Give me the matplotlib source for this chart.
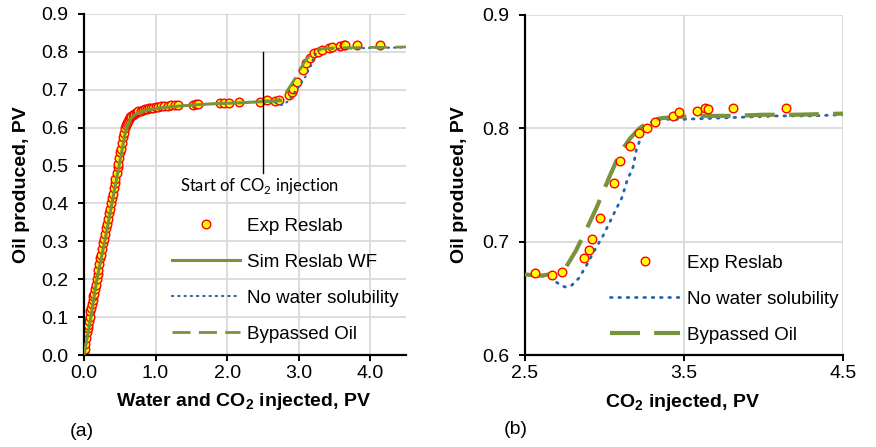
import matplotlib
matplotlib.use('Agg')
import matplotlib.pyplot as plt
from matplotlib.lines import Line2D
from matplotlib.ticker import FormatStrFormatter

plt.rcParams['font.family'] = ['Liberation Sans', 'DejaVu Sans']
plt.rcParams['mathtext.fontset'] = 'custom'
plt.rcParams['mathtext.rm'] = 'Lato'
plt.rcParams['mathtext.bf'] = 'Liberation Sans:bold'

# waterflood stage, experiment
wf_exp_x = [0.00, 0.01, 0.02, 0.03, 0.04, 0.05, 0.06, 0.07, 0.08, 0.09,
            0.10, 0.11, 0.12, 0.13, 0.14, 0.15, 0.165, 0.175, 0.19, 0.20,
            0.215, 0.23, 0.24, 0.255, 0.27, 0.28, 0.295, 0.31, 0.32, 0.335,
            0.35, 0.36, 0.375, 0.39, 0.40, 0.415, 0.43, 0.44, 0.455, 0.47,
            0.48, 0.495, 0.51, 0.52, 0.535, 0.55, 0.56, 0.575, 0.59, 0.60,
            0.61, 0.625, 0.64, 0.66, 0.68, 0.70, 0.72, 0.74, 0.76, 0.79,
            0.82, 0.85, 0.88, 0.91, 0.94, 0.97, 1.00, 1.04, 1.08, 1.12,
            1.17, 1.22, 1.27, 1.32, 1.52, 1.56, 1.60, 1.90, 1.96, 2.02,
            2.16, 2.46]
wf_exp_y = [0.005, 0.015, 0.030, 0.045, 0.060, 0.070, 0.080, 0.090, 0.100, 0.115,
            0.125, 0.135, 0.145, 0.155, 0.160, 0.175, 0.185, 0.200, 0.215, 0.225,
            0.240, 0.255, 0.265, 0.280, 0.295, 0.305, 0.320, 0.335, 0.345, 0.360,
            0.375, 0.385, 0.400, 0.415, 0.425, 0.440, 0.455, 0.465, 0.480, 0.495,
            0.505, 0.520, 0.535, 0.545, 0.560, 0.575, 0.585, 0.600, 0.607, 0.613,
            0.618, 0.622, 0.627, 0.631, 0.634, 0.637, 0.639, 0.641, 0.643, 0.645,
            0.647, 0.648, 0.650, 0.651, 0.652, 0.653, 0.654, 0.655, 0.656, 0.657,
            0.658, 0.659, 0.659, 0.660, 0.661, 0.662, 0.662, 0.665, 0.666, 0.666,
            0.667, 0.668]

# CO2 stage, experiment
co2_exp_x = [2.56, 2.67, 2.73, 2.87, 2.90, 2.92, 2.97, 3.06, 3.10, 3.16,
             3.22, 3.27, 3.32, 3.43, 3.47, 3.58, 3.63, 3.65, 3.81, 4.14]
co2_exp_y = [0.672, 0.671, 0.673, 0.686, 0.693, 0.702, 0.721, 0.752, 0.771, 0.784,
             0.796, 0.800, 0.806, 0.811, 0.814, 0.815, 0.818, 0.817, 0.818, 0.818]

# simulated waterflood
sim_wf_x = [0.00, 0.10, 0.18, 0.29, 0.39, 0.49, 0.58, 0.62, 0.66, 0.72,
            0.80, 0.90, 1.02, 1.20, 1.53, 1.80, 2.23, 2.50, 2.75]
sim_wf_y = [0.000, 0.105, 0.200, 0.300, 0.400, 0.500, 0.590, 0.612, 0.626, 0.636,
            0.642, 0.647, 0.651, 0.655, 0.660, 0.663, 0.666, 0.669, 0.671]

# simulation without CO2 solubility in water
nosol_x = [2.50, 2.60, 2.66, 2.71, 2.75, 2.79, 2.84, 2.89, 2.94, 2.99,
           3.06, 3.11, 3.14, 3.18, 3.20, 3.24, 3.30, 3.35, 3.50, 3.70,
           3.90, 4.10, 4.30, 4.50]
nosol_y = [0.671, 0.670, 0.668, 0.663, 0.660, 0.661, 0.668, 0.680, 0.693, 0.705,
           0.725, 0.739, 0.753, 0.766, 0.781, 0.796, 0.806, 0.808, 0.808, 0.809,
           0.810, 0.811, 0.811, 0.812]

# simulation with bypassed oil
bypass_x = [2.50, 2.60, 2.70, 2.76, 2.82, 2.88, 2.95, 3.03, 3.10, 3.16,
            3.22, 3.29, 3.36, 3.45, 3.60, 3.80, 4.00, 4.20, 4.50]
bypass_y = [0.671, 0.670, 0.672, 0.678, 0.692, 0.709, 0.730, 0.757, 0.779, 0.791,
            0.800, 0.807, 0.809, 0.810, 0.811, 0.811, 0.812, 0.812, 0.813]

GREEN = '#77933C'
BLUE = '#2464AC'
GRID = '#D9D9D9'
TICK_FS = 14
LEG_FS = 13.5
LABEL_FS = 14

W, H = 876, 447
fig = plt.figure(figsize=(W / 100, H / 100), dpi=100)


def px_axes(left, top, right, bottom):
    return fig.add_axes([left / W, 1 - bottom / H, (right - left) / W, (bottom - top) / H])


def style(ax):
    for s in ('top', 'right'):
        ax.spines[s].set_visible(False)
    for s in ('left', 'bottom'):
        ax.spines[s].set_linewidth(1.6)
        ax.spines[s].set_color('black')
    ax.grid(True, color=GRID, lw=1.3)
    ax.set_axisbelow(True)
    ax.tick_params(direction='out', length=4.5, width=1.4, labelsize=TICK_FS, color='black')
    ax.tick_params(axis='y', pad=7)
    ax.tick_params(axis='x', pad=3)
    ax.xaxis.set_major_formatter(FormatStrFormatter('%.1f'))
    ax.yaxis.set_major_formatter(FormatStrFormatter('%.1f'))


exp_style = dict(ls='none', marker='o', ms=6.2, mfc='#FFFF00', mec='#FF0000', mew=1.0)
leg_opts = dict(loc='upper left', bbox_transform=fig.transFigure, frameon=False,
                fontsize=LEG_FS, numpoints=1, borderpad=0, borderaxespad=0,
                handletextpad=0.36, labelspacing=1.01)

# ---- (a) full test ----
ax_a = px_axes(84, 14, 406, 355)
style(ax_a)
ax_a.plot(wf_exp_x + co2_exp_x, wf_exp_y + co2_exp_y, zorder=2, **exp_style)
ax_a.plot(nosol_x, nosol_y, color=BLUE, lw=1.5, ls=(0, (0.6, 2.4)),
          dash_capstyle='round', zorder=3)
ax_a.plot(bypass_x, bypass_y, color=GREEN, lw=2.0, ls=(0, (6.5, 3.0)), zorder=3)
ax_a.plot(sim_wf_x, sim_wf_y, color=GREEN, lw=2.2, zorder=4)
ax_a.set_xlim(0, 4.5)
ax_a.set_ylim(0, 0.9)
ax_a.set_xticks([0, 1, 2, 3, 4])
ax_a.set_yticks([0.0, 0.1, 0.2, 0.3, 0.4, 0.5, 0.6, 0.7, 0.8, 0.9])

ax_a.plot([2.5, 2.5], [0.48, 0.80], color='black', lw=1.0, zorder=5)
ax_a.text(2.445, 0.446, 'Start of CO$_2$ injection', family='Lato', fontsize=12,
          ha='center', va='center')

ax_a.set_xlabel('Water and CO$_\\mathbf{2}$ injected, PV', fontsize=LABEL_FS,
                fontweight='bold', va='center')
ax_a.xaxis.set_label_coords(0.497, -0.135)
ax_a.set_ylabel('Oil produced, PV', fontsize=LABEL_FS, fontweight='bold', va='center')
ax_a.yaxis.set_label_coords(-0.193, 0.5)

handles_a = [
    Line2D([], [], **exp_style),
    Line2D([], [], color=GREEN, lw=2.2),
    Line2D([], [], color=BLUE, lw=1.5, ls=(0, (0.6, 2.4)), dash_capstyle='round'),
    Line2D([], [], color=GREEN, lw=2.0, ls=(0, (6.5, 3.0))),
]
labels_a = ['Exp Reslab', 'Sim Reslab WF', 'No water solubility', 'Bypassed Oil']
ax_a.legend(handles_a, labels_a, bbox_to_anchor=(171.7 / W, 1 - 217.5 / H),
            handlelength=3.63, **leg_opts)

# ---- (b) CO2 stage ----
ax_b = px_axes(525, 15, 843, 355)
style(ax_b)
ax_b.plot(nosol_x, nosol_y, color=BLUE, lw=2.0, ls=(0, (0.6, 2.4)),
          dash_capstyle='round', zorder=3)
ax_b.plot(bypass_x, bypass_y, color=GREEN, lw=3.0, ls=(0, (7.2, 3.4)), zorder=3)
ax_b.plot(co2_exp_x, co2_exp_y, zorder=4, **exp_style)
ax_b.set_xlim(2.5, 4.5)
ax_b.set_ylim(0.6, 0.9)
ax_b.set_xticks([2.5, 3.5, 4.5])
ax_b.set_yticks([0.6, 0.7, 0.8, 0.9])

ax_b.set_xlabel('CO$_\\mathbf{2}$ injected, PV', fontsize=LABEL_FS, fontweight='bold',
                va='center')
ax_b.xaxis.set_label_coords(0.495, -0.141)
ax_b.set_ylabel('Oil produced, PV', fontsize=LABEL_FS, fontweight='bold', va='center')
ax_b.yaxis.set_label_coords(-0.2075, 0.5)

handles_b = [
    Line2D([], [], **exp_style),
    Line2D([], [], color=BLUE, lw=2.0, ls=(0, (0.6, 2.4)), dash_capstyle='round'),
    Line2D([], [], color=GREEN, lw=3.0, ls=(0, (7.2, 3.4))),
]
labels_b = ['Exp Reslab', 'No water solubility', 'Bypassed Oil']
ax_b.legend(handles_b, labels_b, bbox_to_anchor=(610 / W, 1 - 254.5 / H),
            handlelength=3.73, **leg_opts)

fig.text(82 / W, 1 - 432 / H, '(a)', fontsize=14, ha='center', va='center')
fig.text(516 / W, 1 - 430 / H, '(b)', fontsize=14, ha='center', va='center')

fig.savefig('out.png', dpi=100)
